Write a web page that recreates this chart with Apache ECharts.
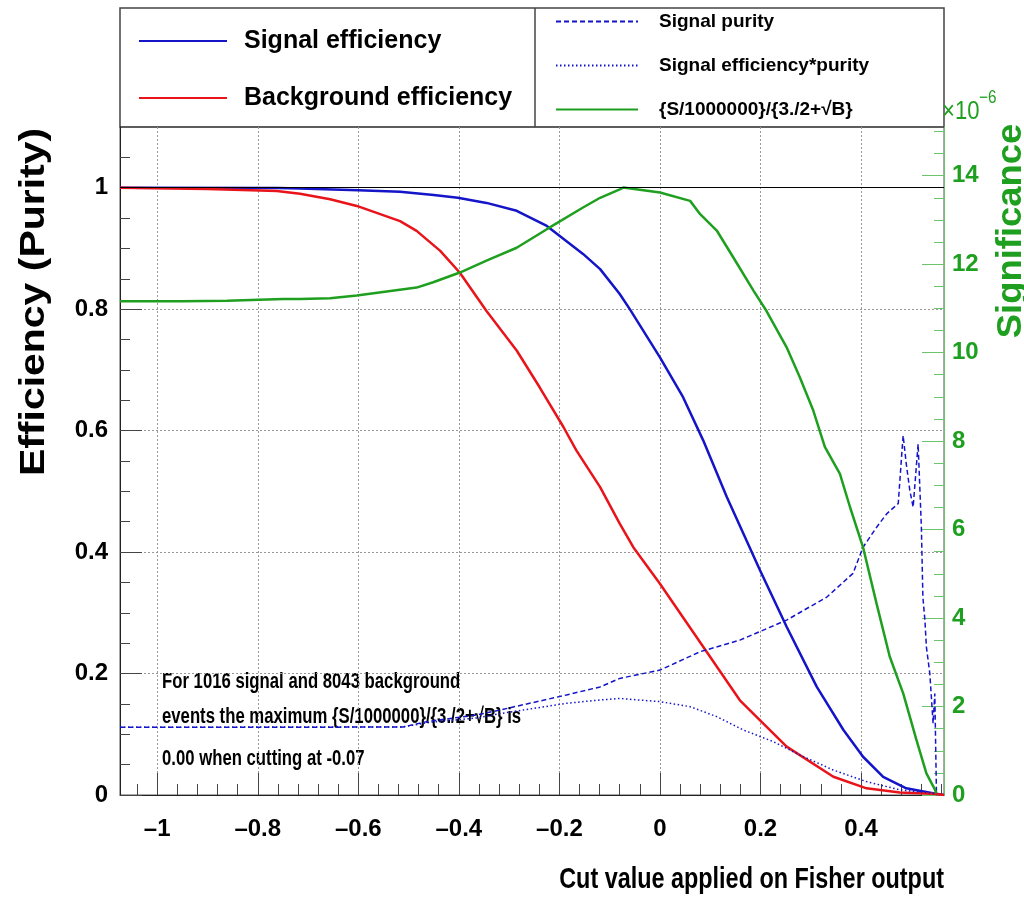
<!DOCTYPE html>
<html>
<head>
<meta charset="utf-8">
<script src="https://cdn.jsdelivr.net/npm/echarts@6/dist/echarts.min.js"></script>
<style>
  html, body { margin: 0; padding: 0; background: #fff; }
  #main { width: 1024px; height: 901px; }
</style>
</head>
<body>
<div id="main"></div>
<script>
// values, x = cut value
var signalEff = [
  [-1.074, 1.0], [-0.76, 0.9995], [-0.716, 0.9987], [-0.6, 0.996], [-0.517, 0.9934],
  [-0.45, 0.988], [-0.402, 0.9836], [-0.345, 0.975], [-0.285, 0.962], [-0.225, 0.937],
  [-0.153, 0.891], [-0.119, 0.866], [-0.08, 0.825], [-0.06, 0.8], [0, 0.7206],
  [0.046, 0.655], [0.086, 0.584], [0.133, 0.4906], [0.199, 0.37], [0.252, 0.277],
  [0.312, 0.178], [0.365, 0.107], [0.404, 0.063], [0.444, 0.03], [0.49, 0.011],
  [0.543, 0.003], [0.565, 0]
];
var backgroundEff = [
  [-1.074, 1.0], [-0.9, 0.998], [-0.762, 0.9946], [-0.716, 0.99], [-0.656, 0.981],
  [-0.603, 0.97], [-0.517, 0.945], [-0.484, 0.929], [-0.437, 0.896], [-0.398, 0.86],
  [-0.345, 0.797], [-0.285, 0.732], [-0.239, 0.671], [-0.192, 0.606], [-0.166, 0.567],
  [-0.119, 0.507], [-0.08, 0.447], [-0.053, 0.408], [0, 0.348], [0.086, 0.244],
  [0.159, 0.156], [0.252, 0.0797], [0.345, 0.03], [0.411, 0.011], [0.477, 0.004],
  [0.543, 0.002], [0.565, 0]
];
var signalPurity = [
  [-1.074, 0.1116], [-0.8, 0.1116], [-0.6, 0.1118], [-0.511, 0.112], [-0.464, 0.1208],
  [-0.364, 0.1318], [-0.318, 0.14], [-0.186, 0.1647], [-0.119, 0.178], [-0.08, 0.192],
  [0, 0.2057], [0.08, 0.236], [0.159, 0.255], [0.252, 0.288], [0.332, 0.326],
  [0.384, 0.365], [0.404, 0.408], [0.431, 0.441], [0.451, 0.463], [0.474, 0.48],
  [0.4805, 0.556], [0.4837, 0.592], [0.49, 0.545], [0.497, 0.5016], [0.5036, 0.474],
  [0.5135, 0.578], [0.52, 0.441], [0.523, 0.326], [0.527, 0.288], [0.53, 0.244],
  [0.5368, 0.2], [0.5433, 0.118], [0.5467, 0.167], [0.55, 0.003]
];
var effTimesPurity = [
  [-1.074, 0.1116], [-0.511, 0.112], [-0.464, 0.119], [-0.364, 0.127], [-0.318, 0.134],
  [-0.186, 0.151], [-0.119, 0.1565], [-0.08, 0.159], [0, 0.1537], [0.06, 0.1455],
  [0.113, 0.129], [0.166, 0.107], [0.225, 0.088], [0.278, 0.066], [0.345, 0.041],
  [0.411, 0.022], [0.477, 0.0085], [0.543, 0.003], [0.55, 0]
];
// significance in units of 1e-6
var significance = [
  [-1.074, 11.16], [-0.95, 11.16], [-0.861, 11.17], [-0.749, 11.21], [-0.716, 11.21],
  [-0.656, 11.23], [-0.603, 11.29], [-0.484, 11.47], [-0.451, 11.59], [-0.398, 11.81],
  [-0.345, 12.08], [-0.285, 12.37], [-0.225, 12.79], [-0.153, 13.28], [-0.119, 13.5],
  [-0.08, 13.69], [-0.073, 13.73], [0, 13.62], [0.06, 13.43], [0.08, 13.13],
  [0.113, 12.76], [0.146, 12.15], [0.186, 11.4], [0.212, 10.94], [0.252, 10.12],
  [0.278, 9.45], [0.305, 8.69], [0.328, 7.87], [0.358, 7.26], [0.378, 6.51],
  [0.404, 5.6], [0.431, 4.32], [0.457, 3.13], [0.484, 2.29], [0.51, 1.25],
  [0.53, 0.49], [0.547, 0.12], [0.55, 0.04]
];

var xTicks = [-1, -0.8, -0.6, -0.4, -0.2, 0, 0.2, 0.4];
var yTicks = [0, 0.2, 0.4, 0.6, 0.8, 1];
var sigTicks = [0, 2, 4, 6, 8, 10, 12, 14];

function steps(from, to, step) {
  var out = [];
  for (var v = from; v <= to + 1e-9; v += step) out.push(Math.round(v * 1000) / 1000);
  return out;
}
var xMinor = steps(-1.04, 0.56, 0.04);
var yMinor = steps(0.05, 1.05, 0.05);
var sigMinor = steps(0.5, 15, 0.5);

var FONT = "'Liberation Sans', Arial, sans-serif";
var BLUE = '#1414c8', RED = '#e8141a', GREEN = '#1f9f1f', LGREEN = '#6cc46c';
var X_MIN = -1.074, X_MAX = 0.565;

var chart = echarts.init(document.getElementById('main'));

// legend: line only, hide the marker ECharts puts on line series
var noMarker = { color: 'rgba(0,0,0,0)', borderColor: 'rgba(0,0,0,0)', borderWidth: 0 };

var option = {
  animation: false,
  backgroundColor: '#fff',
  grid: { left: 120, right: 80, top: 127, bottom: 106, show: true, borderColor: '#555', borderWidth: 1 },
  legend: [{
    data: ['Signal efficiency', 'Background efficiency'],
    orient: 'vertical', left: 133, top: 20,
    itemWidth: 88, itemHeight: 14, itemGap: 25,
    itemStyle: noMarker,
    textStyle: { fontFamily: FONT, fontWeight: 'bold', fontSize: 25, lineHeight: 32, color: '#000', padding: [0, 0, 0, 12] }
  }, {
    data: ['Signal purity', 'Signal efficiency*purity', '{S/1000000}/{3./2+√B}'],
    orient: 'vertical', left: 550, top: 5,
    itemWidth: 82, itemHeight: 14, itemGap: 21,
    itemStyle: noMarker,
    textStyle: { fontFamily: FONT, fontWeight: 'bold', fontSize: 19, lineHeight: 23, color: '#000', padding: [0, 0, 0, 16] }
  }],
  xAxis: [{
    type: 'value', min: X_MIN, max: X_MAX, splitNumber: 8,
    axisLine: { onZero: false, lineStyle: { color: '#222', width: 1 } },
    axisTick: { inside: true, length: 22, customValues: xTicks, lineStyle: { color: '#444' } },
    axisLabel: {
      customValues: xTicks, margin: 22, color: '#000',
      fontFamily: FONT, fontWeight: 'bold', fontSize: 24,
      formatter: function (v) { return String(v).replace('-', '–'); }
    },
    splitLine: { show: true, lineStyle: { color: '#999', type: [2, 2], width: 1 } }
  }, {
    type: 'value', min: X_MIN, max: X_MAX, position: 'bottom',
    axisLine: { show: false, onZero: false },
    axisTick: { inside: true, length: 11, customValues: xMinor, lineStyle: { color: '#444' } },
    axisLabel: { show: false },
    splitLine: { show: false }
  }],
  yAxis: [{
    type: 'value', min: 0, max: 1.1, interval: 0.2, position: 'left',
    axisLine: { show: true, onZero: false, lineStyle: { color: '#222', width: 1 } },
    axisTick: { show: true, inside: true, length: 22, customValues: yTicks, lineStyle: { color: '#444' } },
    axisLabel: { customValues: yTicks, margin: 12, color: '#000', fontFamily: FONT, fontWeight: 'bold', fontSize: 24 },
    splitLine: { show: true, lineStyle: { color: '#999', type: [2, 2], width: 1 } }
  }, {
    type: 'value', min: 0, max: 1.1, position: 'left',
    axisLine: { show: false, onZero: false },
    axisTick: { show: true, inside: true, length: 10, customValues: yMinor, lineStyle: { color: '#444' } },
    axisLabel: { show: false },
    splitLine: { show: false }
  }, {
    type: 'value', min: 0, max: 15.1, position: 'right',
    axisLine: { show: true, onZero: false, lineStyle: { color: LGREEN, width: 1 } },
    axisTick: { show: true, inside: true, length: 22, customValues: sigTicks, lineStyle: { color: LGREEN } },
    axisLabel: { customValues: sigTicks, margin: 8, color: GREEN, fontFamily: FONT, fontWeight: 'bold', fontSize: 24 },
    splitLine: { show: false }
  }, {
    type: 'value', min: 0, max: 15.1, position: 'right',
    axisLine: { show: false, onZero: false },
    axisTick: { show: true, inside: true, length: 10, customValues: sigMinor, lineStyle: { color: LGREEN } },
    axisLabel: { show: false },
    splitLine: { show: false }
  }],
  series: [{
    name: 'Signal efficiency', type: 'line', xAxisIndex: 0, yAxisIndex: 0,
    data: signalEff, symbol: 'none', color: BLUE,
    lineStyle: { color: BLUE, width: 2.5 },
    markLine: {
      silent: true, symbol: ['none', 'none'], label: { show: false },
      lineStyle: { color: '#000', width: 1, type: 'solid' },
      data: [{ yAxis: 1 }]
    }
  }, {
    name: 'Background efficiency', type: 'line', xAxisIndex: 0, yAxisIndex: 0,
    data: backgroundEff, symbol: 'none', color: RED,
    lineStyle: { color: RED, width: 2.5 }
  }, {
    name: 'Signal purity', type: 'line', xAxisIndex: 0, yAxisIndex: 0,
    data: signalPurity, symbol: 'none', color: BLUE,
    lineStyle: { color: BLUE, width: 1.5, type: [5, 3] }
  }, {
    name: 'Signal efficiency*purity', type: 'line', xAxisIndex: 0, yAxisIndex: 0,
    data: effTimesPurity, symbol: 'none', color: BLUE,
    lineStyle: { color: BLUE, width: 1.5, type: [1.5, 2.5] }
  }, {
    name: '{S/1000000}/{3./2+√B}', type: 'line', xAxisIndex: 0, yAxisIndex: 2,
    data: significance, symbol: 'none', color: GREEN,
    lineStyle: { color: GREEN, width: 2.5 }
  }],
  graphic: [
    // legend frame
    { type: 'rect', shape: { x: 120, y: 8, width: 824, height: 119 }, style: { fill: 'none', stroke: '#444', lineWidth: 1.5 }, silent: true },
    { type: 'line', shape: { x1: 535, y1: 8, x2: 535, y2: 127 }, style: { stroke: '#444', lineWidth: 1.5 }, silent: true },
    // axis titles
    { type: 'text', x: 34, y: 302, rotation: Math.PI / 2, scaleX: 1.17,
      style: { text: 'Efficiency (Purity)', font: 'bold 35px ' + FONT, fill: '#000', align: 'center', verticalAlign: 'middle' } },
    { type: 'text', x: 1011, y: 231, rotation: Math.PI / 2, scaleX: 1.04,
      style: { text: 'Significance', font: 'bold 35px ' + FONT, fill: GREEN, align: 'center', verticalAlign: 'middle' } },
    { type: 'text', x: 944, y: 880, scaleX: 0.78,
      style: { text: 'Cut value applied on Fisher output', font: 'bold 30px ' + FONT, fill: '#000', align: 'right', verticalAlign: 'middle' } },
    // exponent of the right axis
    { type: 'text', x: 942, y: 112, scaleX: 0.85,
      style: { text: '×10', font: '26px ' + FONT, fill: GREEN, align: 'left', verticalAlign: 'middle' } },
    { type: 'text', x: 979, y: 98, scaleX: 0.85,
      style: { text: '−6', font: '18px ' + FONT, fill: GREEN, align: 'left', verticalAlign: 'middle' } },
    // annotation
    { type: 'text', x: 162, y: 682, scaleX: 0.76,
      style: { text: 'For 1016 signal and 8043 background', font: 'bold 22px ' + FONT, fill: '#000', verticalAlign: 'middle' } },
    { type: 'text', x: 162, y: 717, scaleX: 0.76,
      style: { text: 'events the maximum {S/1000000}/{3./2+√B} is', font: 'bold 22px ' + FONT, fill: '#000', verticalAlign: 'middle' } },
    { type: 'text', x: 162, y: 759, scaleX: 0.76,
      style: { text: '0.00 when cutting at -0.07', font: 'bold 22px ' + FONT, fill: '#000', verticalAlign: 'middle' } }
  ]
};

chart.setOption(option);
</script>
</body>
</html>
